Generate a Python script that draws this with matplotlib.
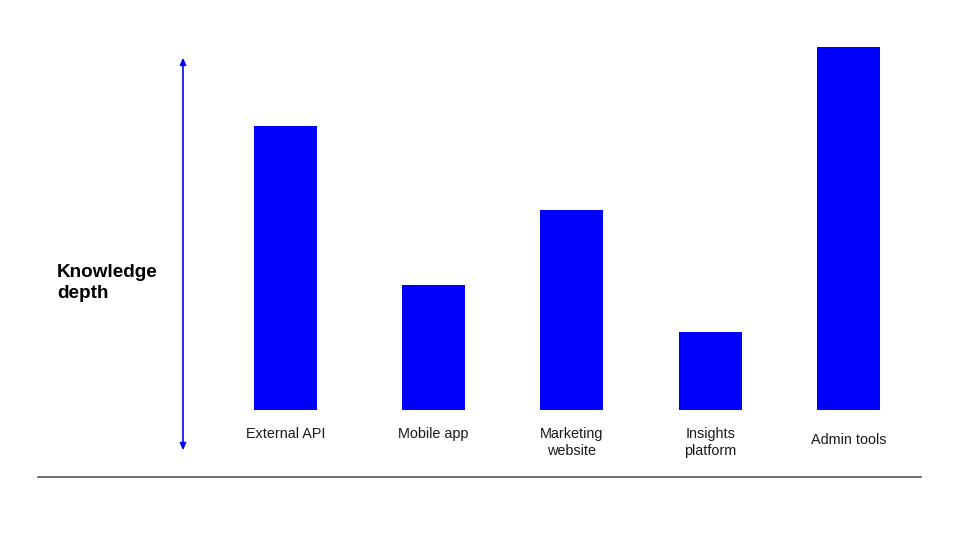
import matplotlib.pyplot as plt
from matplotlib.lines import Line2D
from matplotlib.patches import FancyArrowPatch

# dati
categorie = ["External API", "Mobile app", "Marketing\nwebsite", "Insights\nplatform", "Admin tools"]
profondita = [7.82, 3.44, 5.51, 2.15, 10.0]

# posizioni orizzontali dei centri delle barre (pixel della figura)
xpos = [285.5, 433.5, 571.5, 710.5, 848.5]

plt.rcParams['font.family'] = ['Liberation Sans', 'DejaVu Sans']

W, H = 960, 540
fig = plt.figure(figsize=(9.6, 5.4), dpi=100)

# asse delle barre: in x usa i pixel, base a 410 px, cima a 47 px
ax = fig.add_axes([0, (H - 410) / H, 1, 363 / H])
ax.bar(xpos, profondita, width=63, color="#0000ff")
ax.set_xlim(0, W)
ax.set_ylim(0, 10)
ax.axis("off")

# etichette sotto le barre
for x, lab in zip(xpos, categorie):
    if lab == "Admin tools":
        ax.annotate(lab, xy=(x, 0), xytext=(0, -21.5), textcoords="offset points",
                    ha="center", va="center", fontsize=10.4, color="#1a1a1a",
                    annotation_clip=False)
    else:
        ax.annotate(lab, xy=(x, 0), xytext=(0, -12.5), textcoords="offset points",
                    ha="center", va="top", fontsize=10.4, color="#1a1a1a",
                    linespacing=1.2, annotation_clip=False)

# freccia verticale
fig.add_artist(FancyArrowPatch(
    (183 / W, 1 - 453 / H), (183 / W, 1 - 55 / H), transform=fig.transFigure,
    arrowstyle="<|-|>,head_length=4,head_width=1.8", color="#0000ff", lw=1.2))

# titolo asse y
fig.text(57 / W, 1 - 283 / H, "Knowledge\ndepth", ha="left", va="center",
         multialignment="left", fontsize=13.6, fontweight="bold", linespacing=1.38)

# linea di base
fig.add_artist(Line2D([38 / W, 921 / W], [1 - 477 / H, 1 - 477 / H],
                      transform=fig.transFigure, color="#555555", lw=1.2))

fig.savefig("out.png", dpi=100)
